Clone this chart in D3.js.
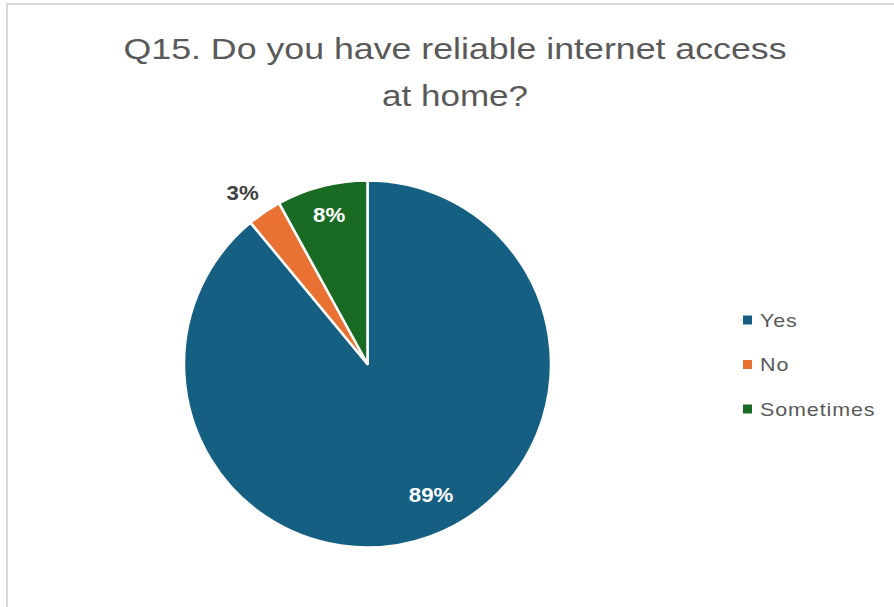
<!DOCTYPE html>
<html>
<head>
<meta charset="utf-8">
<script src="https://cdn.jsdelivr.net/npm/d3@7"></script>
<style>
  html, body { margin: 0; padding: 0; background: #fff; }
  svg { display: block; }
</style>
</head>
<body>
<svg id="chart" width="894" height="607"></svg>
<script>
// Survey answers for Q15 and their shares (percent)
const categories = ["Yes", "No", "Sometimes"];
const values = [89, 3, 8];
const colors = ["#156082", "#E97132", "#196B24"];
const titleLines = ["Q15. Do you have reliable internet access", "at home?"];

const svg = d3.select("#chart");
const font = "'Liberation Sans', Arial, sans-serif";

// Chart frame
svg.append("rect")
  .attr("x", 7).attr("y", 4)
  .attr("width", 900).attr("height", 620)
  .attr("fill", "#fff")
  .attr("stroke", "#d9d9d9").attr("stroke-width", 2);

// Title, two centred lines set in a wide face
const titleWidths = [663, 146];
svg.append("g").selectAll("text")
  .data(titleLines)
  .join("text")
  .attr("x", 455)
  .attr("y", (d, i) => 59 + i * 47)
  .attr("text-anchor", "middle")
  .attr("font-family", font)
  .attr("font-size", 29.5)
  .attr("fill", "#595959")
  .attr("textLength", (d, i) => titleWidths[i])
  .attr("lengthAdjust", "spacingAndGlyphs")
  .text(d => d);

// Pie, starting at twelve o'clock and running clockwise
const cx = 367.5, cy = 364, r = 183.5;
const data = categories.map((c, i) => ({ category: c, value: values[i], color: colors[i] }));
const pie = d3.pie().value(d => d.value).sort(null);
const arcs = pie(data);
const arc = d3.arc().innerRadius(0).outerRadius(r);

const g = svg.append("g").attr("transform", `translate(${cx},${cy})`);
g.selectAll("path")
  .data(arcs)
  .join("path")
  .attr("d", arc)
  .attr("fill", d => d.data.color)
  .attr("stroke", "#fff")
  .attr("stroke-width", 2.5)
  .attr("stroke-linejoin", "round");

// Data labels: large slices inside, the thin slice outside the rim
function labelPos(d) {
  const a = (d.startAngle + d.endAngle) / 2;
  const at = k => [Math.sin(a) * k, -Math.cos(a) * k];
  if (d.data.value < 5) {
    const p = at(r + 28);
    return [p[0] - 6, p[1] + 4];
  }
  if (d.data.value > 50) {
    const p = at(r * 0.79);
    return [p[0] + 14.5, p[1] - 6];
  }
  return at(r * 0.84);
}

g.selectAll("text.lbl")
  .data(arcs)
  .join("text")
  .attr("class", "lbl")
  .attr("transform", d => `translate(${labelPos(d)}) scale(1.06,1)`)
  .attr("fill", d => d.data.value < 5 ? "#404040" : "#fff")
  .attr("text-anchor", "middle")
  .attr("dominant-baseline", "central")
  .attr("font-family", font)
  .attr("font-size", 21)
  .attr("font-weight", "bold")
  .text(d => d.data.value + "%");

// Legend
const legend = svg.append("g").attr("transform", "translate(743,320)");
const rows = legend.selectAll("g")
  .data(data)
  .join("g")
  .attr("transform", (d, i) => `translate(0,${i * 44.5})`);
rows.append("rect")
  .attr("x", 0).attr("y", -4.5)
  .attr("width", 9).attr("height", 9)
  .attr("fill", d => d.color);
rows.append("text")
  .attr("transform", "translate(17,6.5) scale(1.13,1)")
  .attr("font-family", font)
  .attr("font-size", 19)
  .attr("letter-spacing", 0.8)
  .attr("fill", "#595959")
  .text(d => d.category);
</script>
</body>
</html>
